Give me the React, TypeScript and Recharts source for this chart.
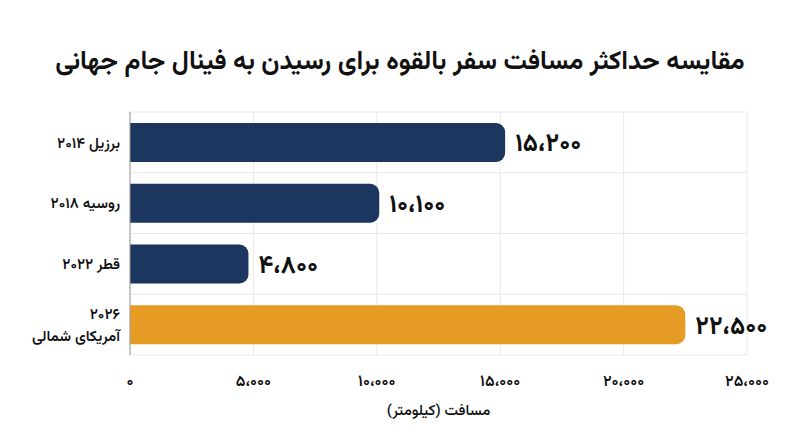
import { Bar, BarChart, CartesianGrid, Cell, LabelList, XAxis, YAxis } from 'recharts'

const FONT = "Vazirmatn, 'Noto Sans Arabic', 'DejaVu Sans', sans-serif"

const categories = ['برزیل ۲۰۱۴', 'روسیه ۲۰۱۸', 'قطر ۲۰۲۲', '۲۰۲۶\nآمریکای شمالی']
const distances = [15200, 10100, 4800, 22500]
const barColors = ['#1d3660', '#1d3660', '#1d3660', '#e69c24']
const xTicks = [0, 5000, 10000, 15000, 20000, 25000]

const title = 'مقایسه حداکثر مسافت سفر بالقوه برای رسیدن به فینال جام جهانی'
const xLabel = 'مسافت (کیلومتر)'

const data = categories.map((name, i) => ({ name, value: distances[i], fill: barColors[i] }))

const faDigits = '۰۱۲۳۴۵۶۷۸۹'
const toFa = (n: number) =>
  n
    .toLocaleString('en-US')
    .replace(/,/g, '،')
    .replace(/[0-9]/g, (d) => faDigits[+d])

function CategoryTick({ x, y, payload }: any) {
  const lines = String(payload.value).split('\n')
  const first = -((lines.length - 1) * 22) / 2
  return (
    <g>
      {lines.map((ln, i) => (
        <text
          key={i}
          x={x}
          y={y + first + i * 22}
          dy="0.35em"
          textAnchor="end"
          fontSize={15}
          fontWeight={600}
          fill="#111"
          fontFamily={FONT}
        >
          {ln}
        </text>
      ))}
    </g>
  )
}

// grid rows sit between the categories, not through them
const bandLines = ({ offset }: any) =>
  categories.map((_, i) => offset.top + (i * offset.height) / categories.length).concat(offset.top + offset.height)

export default function App() {
  return (
    <div style={{ position: 'absolute', top: 0, left: 0, width: 800, height: 447, background: '#fff' }}>
      <div
        dir="rtl"
        style={{
          position: 'absolute',
          top: 42,
          left: 0,
          width: 800,
          textAlign: 'center',
          fontFamily: FONT,
          fontWeight: 700,
          fontSize: 26,
          color: '#111',
        }}
      >
        {title}
      </div>
      <BarChart
        width={800}
        height={447}
        data={data}
        layout="vertical"
        margin={{ top: 112, right: 53, bottom: 26, left: 0 }}
        barSize={39}
      >
        <CartesianGrid
          stroke="#e8e8e8"
          vertical
          horizontal
          horizontalCoordinatesGenerator={bandLines}
        />
        <XAxis
          type="number"
          domain={[0, 25000]}
          ticks={xTicks}
          tickFormatter={toFa}
          axisLine={false}
          tickLine={false}
          tickSize={0}
          tickMargin={20}
          height={66}
          tick={{ fontSize: 16, fontWeight: 600, fill: '#111', fontFamily: FONT }}
          label={{
            value: xLabel,
            position: 'insideBottom',
            offset: 6,
            fontSize: 15,
            fontWeight: 500,
            fill: '#111',
            fontFamily: FONT,
          }}
        />
        <YAxis
          type="category"
          dataKey="name"
          width={130}
          axisLine={{ stroke: '#999' }}
          tickLine={false}
          tickSize={0}
          tickMargin={10}
          tick={<CategoryTick />}
        />
        <Bar dataKey="value" radius={[0, 9, 9, 0]} isAnimationActive={false}>
          {data.map((d) => (
            <Cell key={d.name} fill={d.fill} />
          ))}
          <LabelList
            dataKey="value"
            position="right"
            offset={10}
            formatter={(v: any) => toFa(Number(v))}
            fontSize={25}
            fontWeight={700}
            fill="#111"
            fontFamily={FONT}
          />
        </Bar>
      </BarChart>
    </div>
  )
}
